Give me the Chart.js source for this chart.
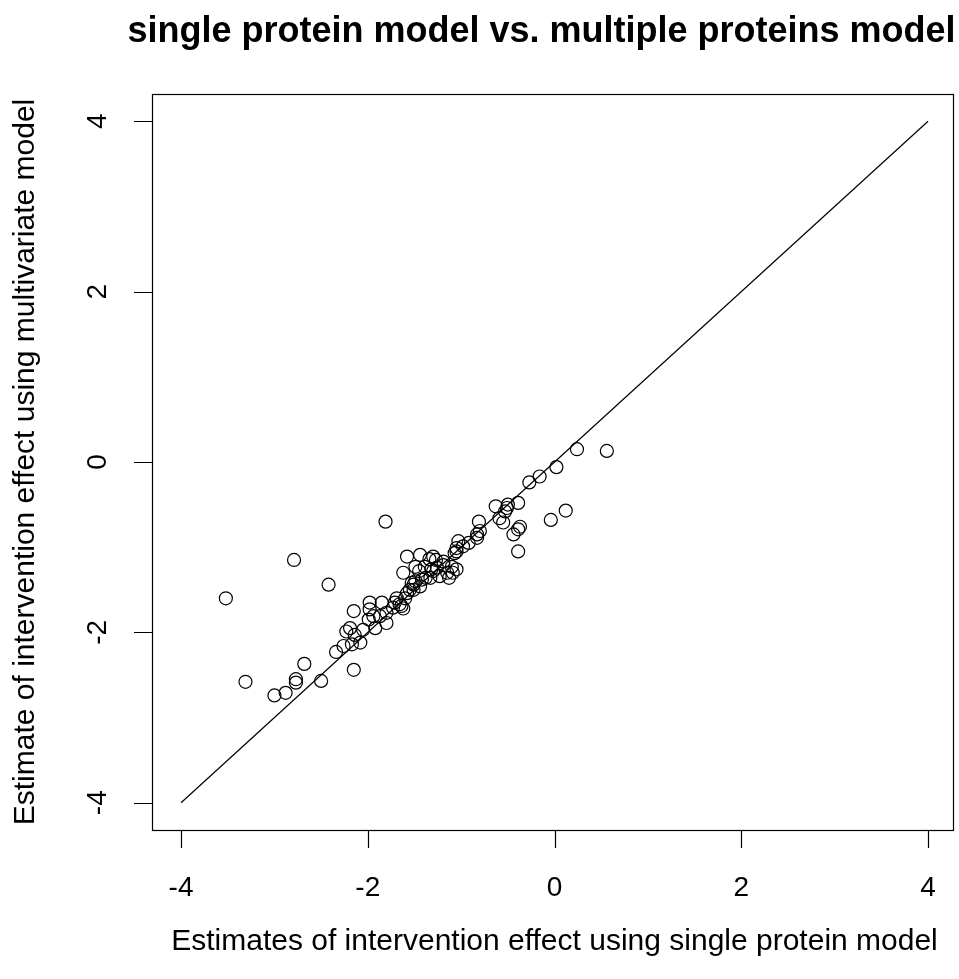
<!DOCTYPE html>
<html>
<head>
<meta charset="utf-8">
<script src="https://cdn.jsdelivr.net/npm/chart.js@4/dist/chart.umd.min.js"></script>
<style>
  html, body { margin: 0; padding: 0; background: #fff; overflow: hidden; }
  #chart { display: block; }
</style>
</head>
<body>
<canvas id="chart" width="959" height="979"></canvas>
<script>
const chartTitle = "single protein model vs. multiple proteins model";
const xTitle = "Estimates of intervention effect using single protein model";
const yTitle = "Estimate of intervention effect using multivariate model";
const xTicks = [-4, -2, 0, 2, 4];
const yTicks = [-4, -2, 0, 2, 4];
const refLine = [-4, 4];

// estimates (x: single protein, y: multivariate)
const singleEst = [
    -3.52, -3.31, -3.00, -2.88, -2.79, -2.77, -2.77, -2.68, -2.50, -2.42,
    -2.15, -2.15, -1.81, -2.34, -2.26, -2.23, -2.19, -2.17, -2.14, -2.08,
    -2.05, -1.99, -1.98, -1.98, -1.94, -1.92, -1.87, -1.85, -1.80, -1.80,
    -1.73, -1.69, -1.71, -1.66, -1.64, -1.62, -1.60, -1.58, -1.55, -1.53,
    -1.51, -1.49, -1.44, -1.42, -1.51, -1.33, -1.38, -1.30, -1.23, -1.15,
    -1.13, -1.62, -1.49, -1.45, -1.39, -1.32, -1.26, -1.19, -1.10, -1.05,
    -1.09, -1.58, -1.44, -1.30, -1.27, -1.34, -1.19, -1.07, -1.05, -1.03,
    -0.98, -0.92, -1.05, -0.83, -0.83, -0.80, -0.81, -0.63, -0.59, -0.55,
    -0.53, -0.50, -0.51, -0.39, -0.37, -0.39, -0.44, -0.39, -0.27, -0.16,
    0.02, -0.04, 0.12, 0.24, 0.56
];
const multiEst = [
    -1.60, -2.58, -2.74, -2.71, -1.15, -2.55, -2.59, -2.37, -2.57, -1.44,
    -2.44, -1.75, -0.70, -2.23, -2.16, -1.99, -1.95, -2.14, -2.03, -2.12,
    -1.97, -1.85, -1.65, -1.73, -1.81, -1.95, -1.81, -1.65, -1.77, -1.89,
    -1.71, -1.60, -1.65, -1.67, -1.69, -1.72, -1.60, -1.54, -1.50, -1.42,
    -1.50, -1.40, -1.46, -1.38, -1.44, -1.36, -1.36, -1.28, -1.34, -1.30,
    -1.36, -1.30, -1.23, -1.28, -1.23, -1.26, -1.24, -1.21, -1.23, -1.26,
    -1.30, -1.11, -1.09, -1.11, -1.15, -1.14, -1.17, -1.07, -1.01, -0.93,
    -0.99, -0.95, -1.05, -0.89, -0.85, -0.81, -0.70, -0.52, -0.66, -0.71,
    -0.58, -0.50, -0.54, -0.48, -0.76, -0.79, -0.85, -1.05, -0.24, -0.17,
    -0.06, -0.68, -0.57, 0.15, 0.13
];

const fontFamily = "'Liberation Sans', Arial, sans-serif";
const canvas = document.getElementById("chart");

function getPoints() {
    return singleEst.map((x, i) => ({ x: x, y: multiEst[i] }));
}

// R style box, ticks and labels drawn from the scales
const baseAxes = {
    id: "baseAxes",
    afterDraw(chart) {
        const ctx = chart.ctx;
        const area = chart.chartArea;
        const xs = chart.scales.x;
        const ys = chart.scales.y;
        ctx.save();
        ctx.strokeStyle = "#000";
        ctx.lineWidth = 1.2;
        ctx.strokeRect(area.left + 0.5, area.top + 0.5, area.right - area.left, area.bottom - area.top);

        ctx.fillStyle = "#000";
        ctx.font = "28px " + fontFamily;
        ctx.textAlign = "center";
        ctx.textBaseline = "middle";

        ctx.beginPath();
        xTicks.forEach(v => {
            const px = Math.round(xs.getPixelForValue(v)) + 0.5;
            ctx.moveTo(px, area.bottom);
            ctx.lineTo(px, area.bottom + 18);
        });
        yTicks.forEach(v => {
            const py = Math.round(ys.getPixelForValue(v)) + 0.5;
            ctx.moveTo(area.left, py);
            ctx.lineTo(area.left - 18, py);
        });
        ctx.stroke();

        xTicks.forEach(v => {
            ctx.fillText(String(v), xs.getPixelForValue(v), area.bottom + 58);
        });
        yTicks.forEach(v => {
            ctx.save();
            ctx.translate(area.left - 54, ys.getPixelForValue(v));
            ctx.rotate(-Math.PI / 2);
            ctx.fillText(String(v), 0, 0);
            ctx.restore();
        });

        const midX = (area.left + area.right) / 2;
        const midY = (area.top + area.bottom) / 2;
        ctx.font = "30px " + fontFamily;
        ctx.fillText(xTitle, midX + 2, area.bottom + 112);
        ctx.save();
        ctx.translate(area.left - 126, midY);
        ctx.rotate(-Math.PI / 2);
        ctx.fillText(yTitle, 0, 0);
        ctx.restore();

        ctx.font = "bold 36px " + fontFamily;
        ctx.fillText(chartTitle, midX - 11, 32);
        ctx.restore();
    }
};

new Chart(canvas.getContext("2d"), {
    type: "scatter",
    data: {
        datasets: [
            {
                data: getPoints(),
                showLine: false,
                pointStyle: "circle",
                pointRadius: 6.5,
                pointBorderWidth: 1.2,
                pointBorderColor: "#000",
                pointBackgroundColor: "rgba(0,0,0,0)",
            },
            {
                data: refLine.map(v => ({ x: v, y: v })),
                showLine: true,
                borderColor: "#000",
                borderWidth: 1.2,
                pointRadius: 0,
                fill: false,
            },
        ],
    },
    options: {
        responsive: false,
        animation: false,
        layout: { autoPadding: false, padding: { left: 152, right: 6, top: 94, bottom: 149 } },
        plugins: {
            legend: { display: false },
            tooltip: { enabled: false },
            title: { display: false },
        },
        scales: {
            x: { type: "linear", min: -4.311, max: 4.267, display: false },
            y: { type: "linear", min: -4.32, max: 4.32, display: false },
        },
    },
    plugins: [baseAxes],
});
</script>
</body>
</html>
